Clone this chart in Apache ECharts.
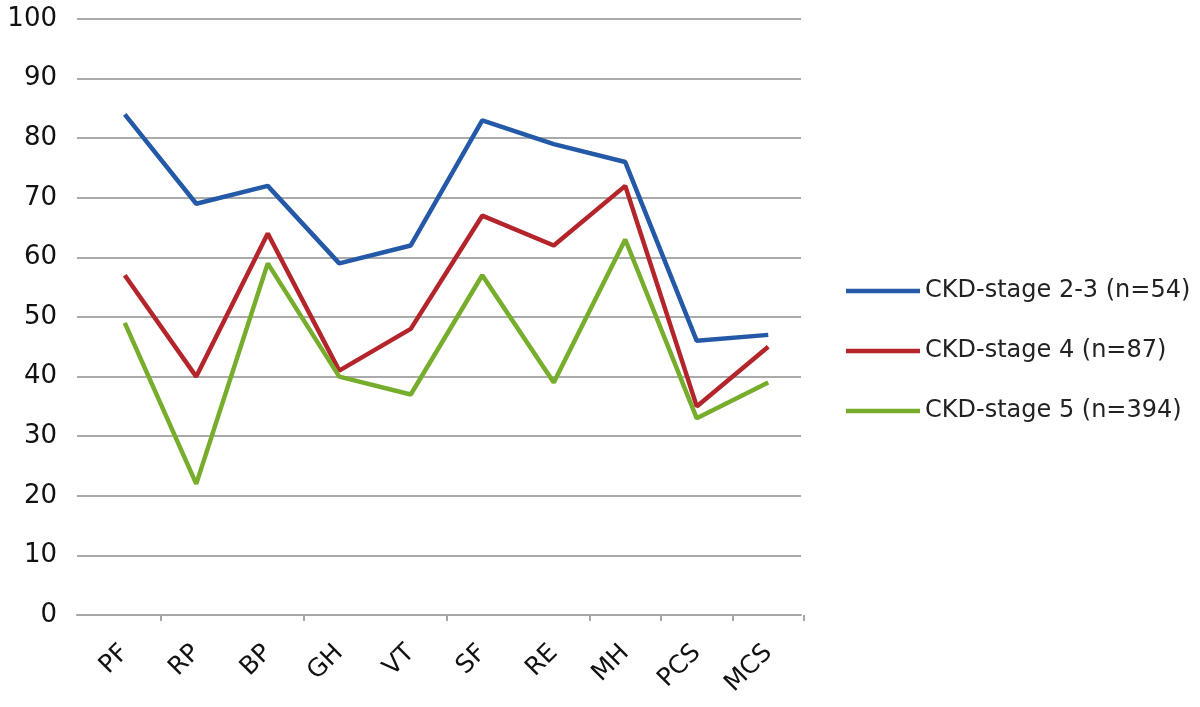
<!DOCTYPE html>
<html>
<head>
<meta charset="utf-8">
<script src="https://cdn.jsdelivr.net/npm/echarts@6/dist/echarts.min.js"></script>
<style>html,body{margin:0;padding:0;background:#fff;}#c{width:1200px;height:707px;}</style>
</head>
<body>
<div id="c"></div>
<script>
var categories = ['PF','RP','BP','GH','VT','SF','RE','MH','PCS','MCS'];
var seriesNames = ['CKD-stage 2-3 (n=54)','CKD-stage 4 (n=87)','CKD-stage 5 (n=394)'];
var stage23 = [84, 69, 72, 59, 62, 83, 79, 76, 46, 47];
var stage4  = [57, 40, 64, 41, 48, 67, 62, 72, 35, 45];
var stage5  = [49, 22, 59, 40, 37, 57, 39, 63, 33, 39];
var tickShownAt = [1, 3, 5, 7, 8, 9];
var colors = ['#2459a8', '#b3252b', '#77ad2c'];
var FONT = 'DejaVu Sans, Liberation Sans, sans-serif';

var chart = echarts.init(document.getElementById('c'));
function mk(name, data, color) {
  return {name: name, type: 'line', data: data, symbol: 'none',
    xAxisIndex: 1, yAxisIndex: 1,
    lineStyle: {width: 4.5, color: color}, itemStyle: {color: color}};
}
chart.setOption({
  animation: false,
  grid: [
    {left: 77, right: 399, top: 19, bottom: 92},
    {left: 89, right: 396, top: 19, bottom: 92}
  ],
  legend: {
    orient: 'vertical', left: 841, top: 274,
    itemWidth: 74, itemHeight: 14, itemGap: 36,
    icon: 'path://M0,5 L74,5 L74,9.5 L0,9.5 Z',
    textStyle: {fontSize: 24, color: '#222', fontFamily: FONT},
    data: seriesNames
  },
  xAxis: [
    {
      gridIndex: 0, type: 'category', data: categories, boundaryGap: true,
      axisLine: {lineStyle: {color: '#a6a6a6', width: 2}},
      axisTick: {show: false}, axisLabel: {show: false}
    },
    {
      gridIndex: 1, type: 'category', data: categories, boundaryGap: true,
      axisLine: {show: false},
      axisTick: {show: true, length: 6, lineStyle: {color: '#a6a6a6', width: 2},
        interval: function (i) { return tickShownAt.indexOf(i) >= 0; }},
      axisLabel: {rotate: 45, fontSize: 25, color: '#111', margin: 34, fontFamily: FONT}
    }
  ],
  yAxis: [
    {
      gridIndex: 0, type: 'value', min: 0, max: 100, interval: 10,
      axisLine: {show: false}, axisTick: {show: false},
      splitLine: {lineStyle: {color: '#aaaaaa', width: 2}},
      axisLabel: {fontSize: 26, color: '#111', margin: 20, fontFamily: FONT}
    },
    {
      gridIndex: 1, type: 'value', min: 0, max: 100, interval: 10,
      axisLine: {show: false}, axisTick: {show: false},
      splitLine: {show: false}, axisLabel: {show: false}
    }
  ],
  series: [
    mk(seriesNames[0], stage23, colors[0]),
    mk(seriesNames[1], stage4, colors[1]),
    mk(seriesNames[2], stage5, colors[2])
  ]
});
</script>
</body>
</html>
